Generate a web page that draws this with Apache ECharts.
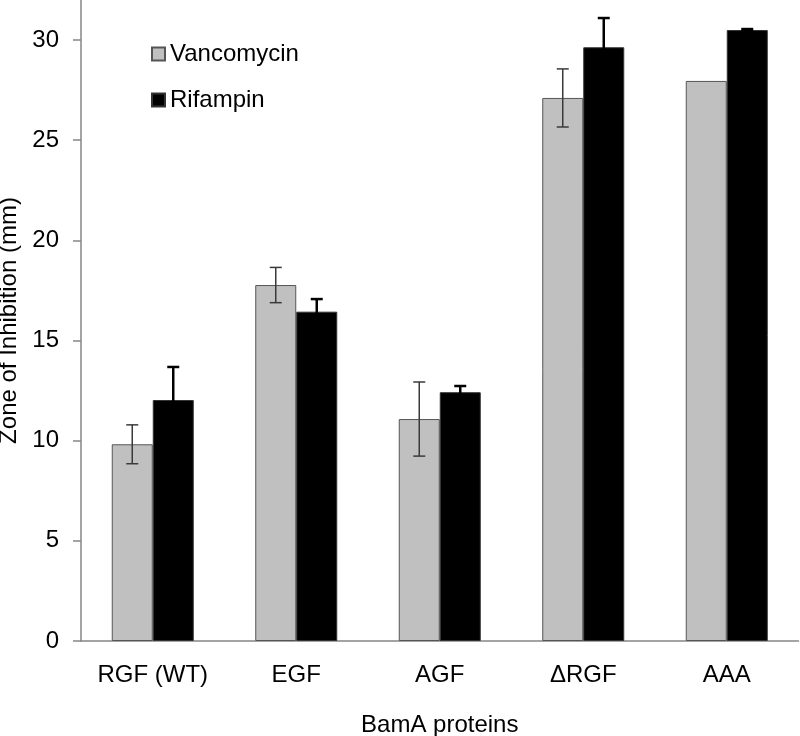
<!DOCTYPE html>
<html>
<head>
<meta charset="utf-8">
<script src="https://cdn.jsdelivr.net/npm/echarts@6/dist/echarts.min.js"></script>
<style>
  html, body { margin: 0; padding: 0; background: #fff; }
  #chart { width: 800px; height: 736px; }
</style>
</head>
<body>
<div id="chart"></div>
<script>
// data
var categories = ['RGF (WT)', 'EGF', 'AGF', '\u0394RGF', 'AAA']
var vancomycin = [9.82, 17.77, 11.08, 27.11, 27.96]
var vancomycinErr = [0.97, 0.88, 1.85, 1.45, 0]
var rifampin = [12.03, 16.44, 12.42, 29.64, 30.5]
var rifampinErr = [1.65, 0.63, 0.31, 1.46, 0.05]
var yTicks = [0, 5, 10, 15, 20, 25, 30]

var font = 'Liberation Sans, Arial, sans-serif'
var BAR_W = 41

// error bar drawn at the centre of one bar of the pair
function errorBar(offset, color, width) {
  return function (params, api) {
    var err = api.value(2)
    if (!err) return
    var x = api.coord([api.value(0), 0])[0] + offset
    var hi = api.coord([api.value(0), api.value(1) + err])[1]
    var lo = api.coord([api.value(0), api.value(1) - err])[1]
    var cap = 6
    var style = { stroke: color, lineWidth: width }
    return {
      type: 'group',
      children: [
        { type: 'line', shape: { x1: x, y1: lo, x2: x, y2: hi }, style: style },
        { type: 'line', shape: { x1: x - cap, y1: hi, x2: x + cap, y2: hi }, style: style },
        { type: 'line', shape: { x1: x - cap, y1: lo, x2: x + cap, y2: lo }, style: style }
      ]
    }
  }
}

function errData(vals, errs) {
  return vals.map(function (v, i) { return [i, v, errs[i]] })
}

var chart = echarts.init(document.getElementById('chart'))
chart.setOption({
  animation: false,
  textStyle: { fontFamily: font },
  grid: { left: 81, right: 1.5, top: 0, bottom: 95, containLabel: false, outerBoundsMode: 'none' },
  legend: {
    data: ['Vancomycin', 'Rifampin'],
    orient: 'vertical',
    left: 151,
    top: 42,
    padding: 0,
    itemGap: 22,
    itemWidth: 13,
    itemHeight: 13,
    icon: 'rect',
    textStyle: { fontSize: 24, color: '#000', fontFamily: font, lineHeight: 24 }
  },
  xAxis: {
    type: 'category',
    data: categories,
    name: 'BamA proteins',
    nameLocation: 'middle',
    nameGap: 72,
    nameTextStyle: { fontSize: 24, color: '#000', fontFamily: font },
    axisLine: { lineStyle: { color: '#868686', width: 1.5 } },
    axisTick: { length: 8, lineStyle: { color: '#868686', width: 1.5 } },
    axisLabel: { interval: 0, fontSize: 24, color: '#000', margin: 22, fontFamily: font }
  },
  yAxis: {
    type: 'value',
    min: 0,
    max: 32,
    name: 'Zone of Inhibition (mm)',
    nameLocation: 'middle',
    nameGap: 54,
    nameTextStyle: { fontSize: 24, color: '#000', fontFamily: font },
    splitLine: { show: false },
    axisLine: { show: true, lineStyle: { color: '#868686', width: 1.5 } },
    axisTick: { show: true, length: 8, customValues: yTicks, lineStyle: { color: '#868686', width: 1.5 } },
    axisLabel: { fontSize: 24, color: '#000', margin: 22, customValues: yTicks, fontFamily: font }
  },
  series: [
    {
      name: 'Vancomycin',
      type: 'bar',
      data: vancomycin,
      barWidth: BAR_W,
      barGap: '0%',
      itemStyle: { color: '#c0c0c0', borderColor: '#555', borderWidth: 1 }
    },
    {
      name: 'Rifampin',
      type: 'bar',
      data: rifampin,
      barWidth: BAR_W,
      barGap: '0%',
      itemStyle: { color: '#000', borderColor: '#333', borderWidth: 1 }
    },
    {
      name: 'vanErr',
      type: 'custom',
      data: errData(vancomycin, vancomycinErr),
      encode: { x: 0, y: 1 },
      renderItem: errorBar(-BAR_W / 2, '#3a3a3a', 1.5),
      z: 5
    },
    {
      name: 'rifErr',
      type: 'custom',
      data: errData(rifampin, rifampinErr),
      encode: { x: 0, y: 1 },
      renderItem: errorBar(BAR_W / 2, '#000', 2.5),
      z: 5
    }
  ]
})
</script>
</body>
</html>
